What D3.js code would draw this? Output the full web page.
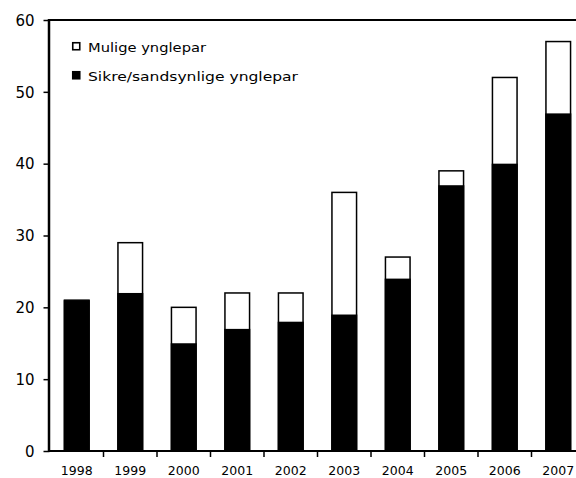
<!DOCTYPE html>
<head>
  <meta charset="utf-8">
  <script src="https://d3js.org/d3.v7.min.js"></script>
  <style>
    body { margin:0; background:#fff; }
    text { font-family: Verdana, "DejaVu Sans", sans-serif; fill:#000; }
  </style>
</head>
<body>
  <script>
    // data
    var years = ["1998","1999","2000","2001","2002","2003","2004","2005","2006","2007"];
    var sikre = [21, 22, 15, 17, 18, 19, 24, 37, 40, 47];   // Sikre/sandsynlige ynglepar
    var mulige = [0, 7, 5, 5, 4, 17, 3, 2, 12, 10];         // Mulige ynglepar
    var yTicks = [0, 10, 20, 30, 40, 50, 60];
    var legendLabels = ["Mulige ynglepar", "Sikre/sandsynlige ynglepar"];

    var width = 576, height = 478;

    var svg = d3.select("body").append("svg")
      .attr("width", width)
      .attr("height", height);

    var x = d3.scaleBand()
      .domain(years)
      .range([50, 585])
      .paddingInner(0.54)
      .paddingOuter(0.27);

    var y = d3.scaleLinear()
      .domain([0, 60])
      .range([451, 20]);

    var data = years.map(function(d, i) {
      return { year: d, sikre: sikre[i], total: sikre[i] + mulige[i] };
    });

    // bars: white total with outline, then black part on top
    svg.selectAll(".tot")
      .data(data)
    .enter().append("rect")
      .attr("class", "tot")
      .attr("x", function(d) { return x(d.year); })
      .attr("y", function(d) { return y(d.total); })
      .attr("width", x.bandwidth())
      .attr("height", function(d) { return y(0) - y(d.total); })
      .style("fill", "#fff")
      .style("stroke", "#000")
      .style("stroke-width", 1.5);

    svg.selectAll(".sik")
      .data(data)
    .enter().append("rect")
      .attr("class", "sik")
      .attr("x", function(d) { return x(d.year) - 0.75; })
      .attr("y", function(d) { return y(d.sikre); })
      .attr("width", x.bandwidth() + 1.5)
      .attr("height", function(d) { return y(0) - y(d.sikre); })
      .style("fill", "#000");

    // y axis
    var yAxis = d3.axisLeft(y).tickValues(yTicks).tickSize(6).tickPadding(9);
    var gy = svg.append("g")
      .attr("transform", "translate(49.5,0)")
      .call(yAxis);
    gy.select(".domain").remove();
    gy.selectAll("line").style("stroke", "#000").style("stroke-width", 1.5);
    gy.selectAll("text").style("font-size", "15px").attr("dy", "0.35em");

    // x axis: labels under bands, ticks at band boundaries
    var xAxis = d3.axisBottom(x).tickSize(0).tickPadding(15);
    var gx = svg.append("g")
      .attr("transform", "translate(0,451)")
      .call(xAxis);
    gx.select(".domain").remove();
    gx.selectAll("text").style("font-size", "12.5px");

    var step = x.step();
    svg.selectAll(".xtick")
      .data(years.slice(1))
      .enter().append("line")
      .attr("x1", function(d) { return x(d) + x.bandwidth() / 2 - step / 2; })
      .attr("x2", function(d) { return x(d) + x.bandwidth() / 2 - step / 2; })
      .attr("y1", 451)
      .attr("y2", 457)
      .style("stroke", "#000")
      .style("stroke-width", 1.5);

    // frame lines
    svg.append("line")
      .attr("x1", 49).attr("x2", width).attr("y1", y(60)).attr("y2", y(60))
      .style("stroke", "#000").style("stroke-width", 2);
    svg.append("line")
      .attr("x1", 49).attr("x2", width).attr("y1", y(0)).attr("y2", y(0))
      .style("stroke", "#000").style("stroke-width", 2);
    svg.append("line")
      .attr("x1", 49).attr("x2", 49).attr("y1", y(60) - 1).attr("y2", y(0) + 1)
      .style("stroke", "#000").style("stroke-width", 2.5);

    // legend
    var legend = svg.selectAll(".leg")
      .data(legendLabels)
      .enter().append("g")
      .attr("class", "leg")
      .attr("transform", function(d, i) { return "translate(72," + (42 + i * 29) + ")"; });

    legend.append("rect")
      .attr("x", 0.75).attr("y", 0.75)
      .attr("width", 7).attr("height", 7)
      .style("fill", function(d, i) { return i === 0 ? "#fff" : "#000"; })
      .style("stroke", "#000")
      .style("stroke-width", 1.6);

    legend.append("text")
      .attr("x", 16)
      .attr("y", 9.5)
      .style("font-size", "12.5px")
      .text(function(d) { return d; })
      .attr("textLength", function(d, i) { return i === 0 ? 118 : 210; })
      .attr("lengthAdjust", "spacingAndGlyphs");
  </script>
</body>
